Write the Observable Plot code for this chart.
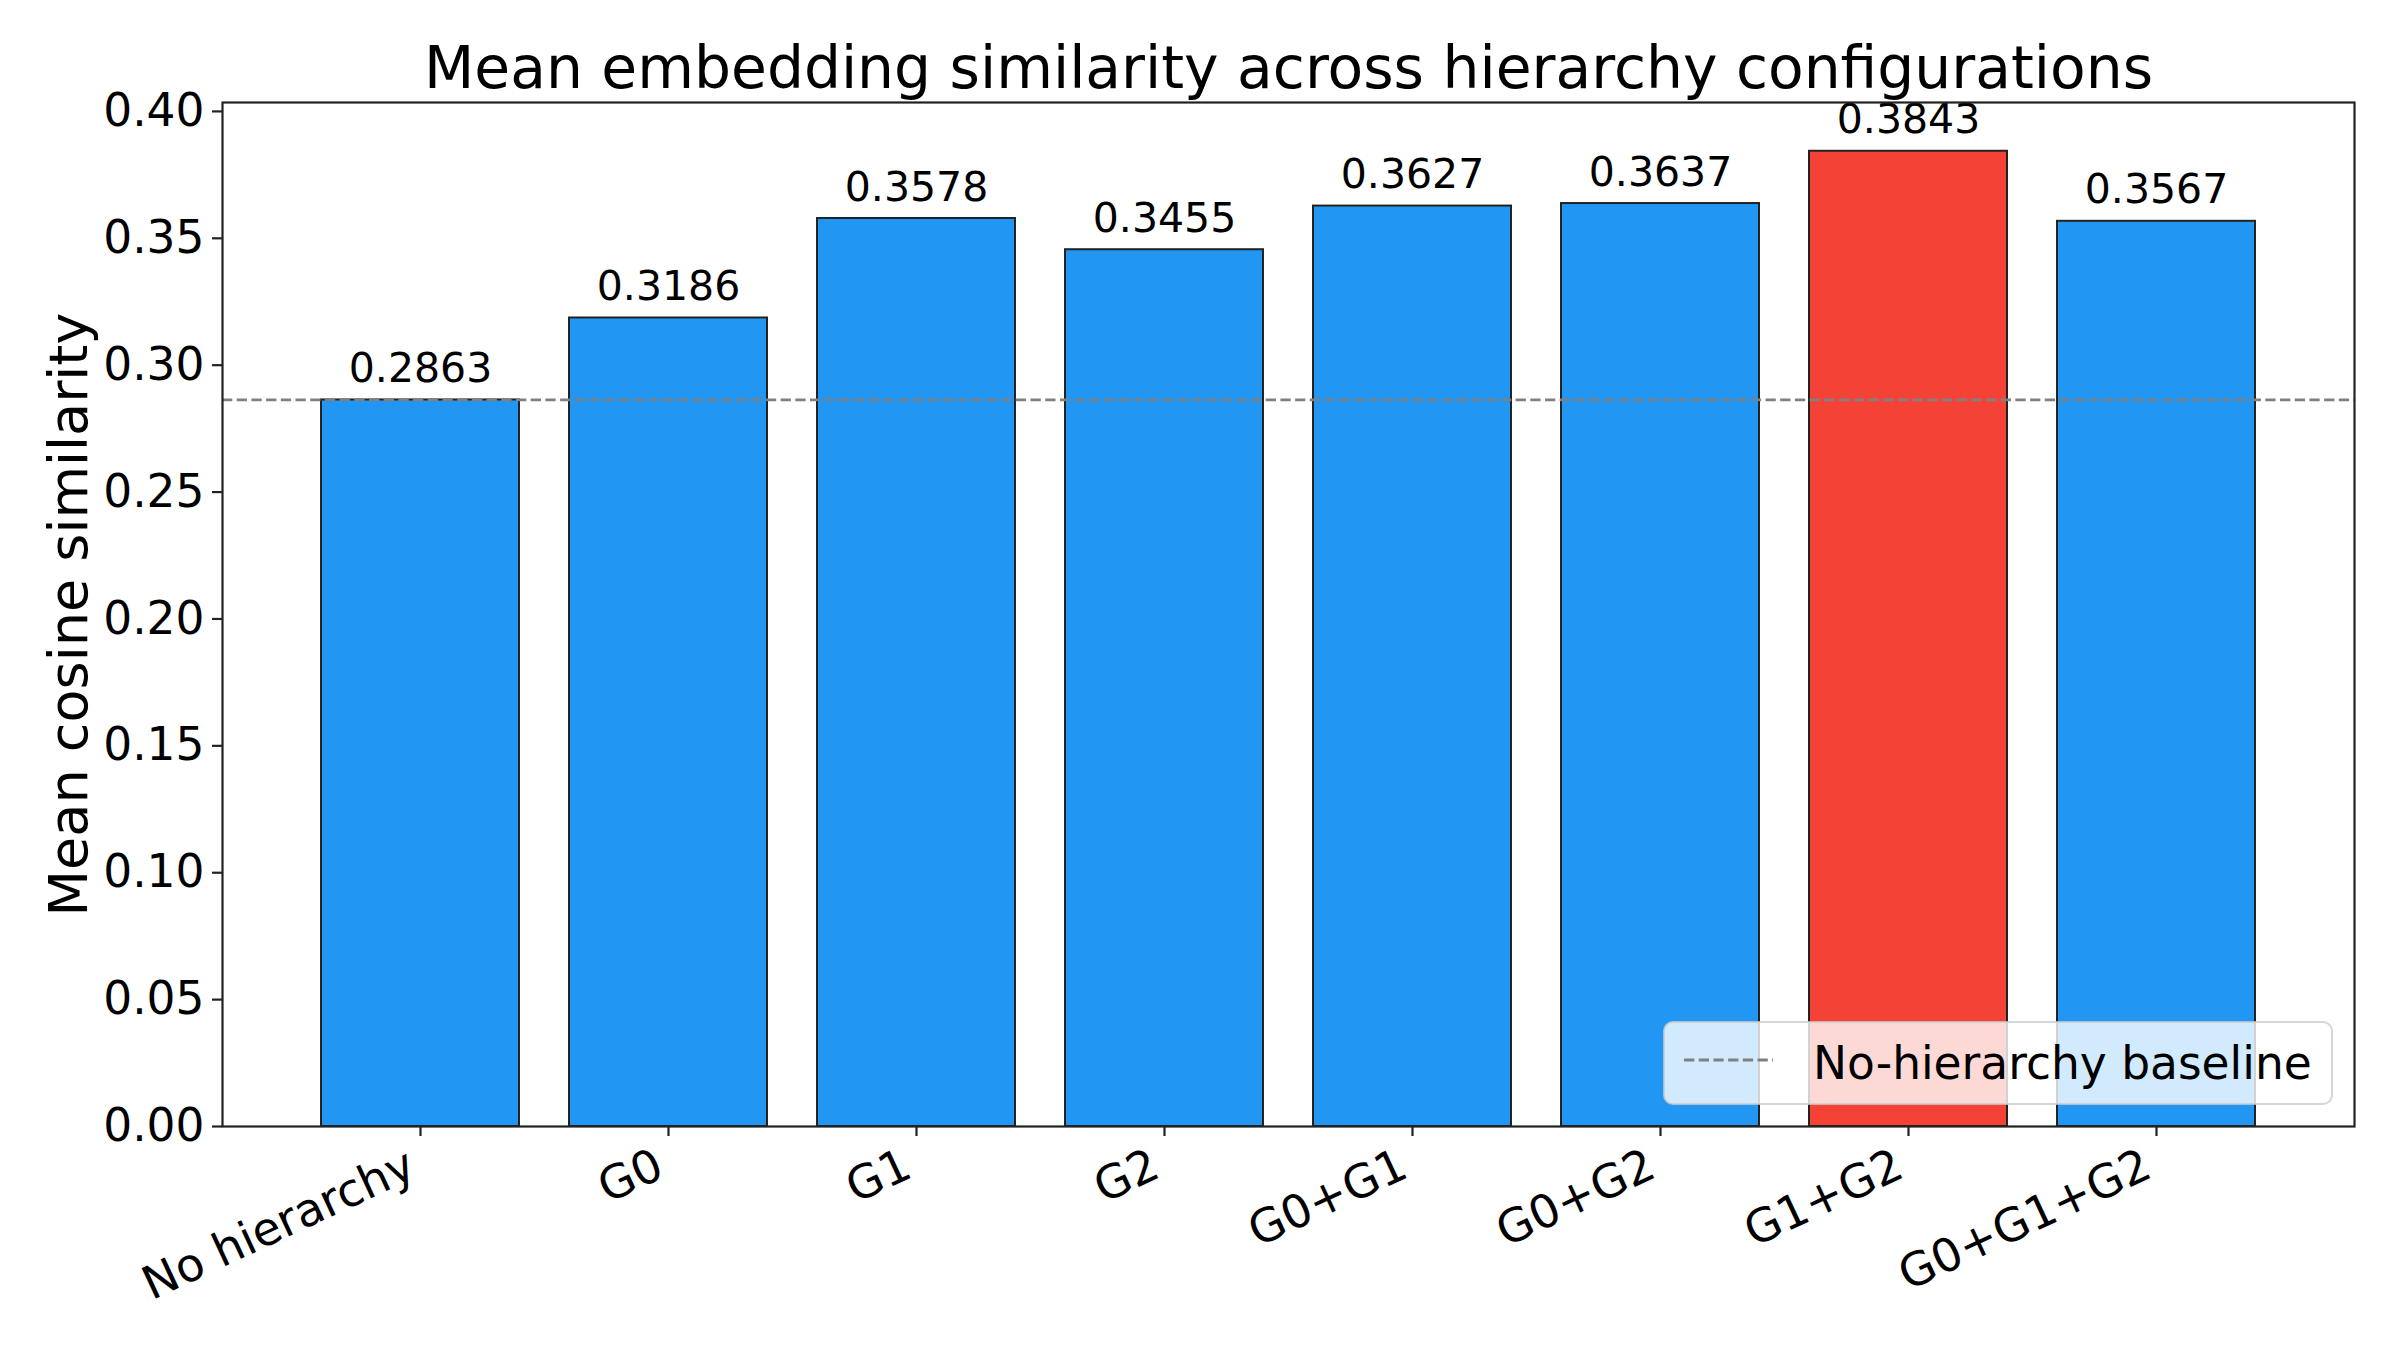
<!DOCTYPE html>
<html><head><meta charset="utf-8">
<script src="https://cdn.jsdelivr.net/npm/d3@7"></script>
<script src="https://cdn.jsdelivr.net/npm/@observablehq/plot@0.6"></script>
<style>html,body{margin:0;padding:0;background:#fff} svg{display:block}</style>
</head><body><div id="chart"></div>
<script>
const categories = ["No hierarchy", "G0", "G1", "G2", "G0+G1", "G0+G2", "G1+G2", "G0+G1+G2"];
const values = [0.2863, 0.3186, 0.3578, 0.3455, 0.3627, 0.3637, 0.3843, 0.3567];
const highlightCategory = "G1+G2";
const baselineValue = 0.2863;
const yTicks = [0.00, 0.05, 0.10, 0.15, 0.20, 0.25, 0.30, 0.35, 0.40];
const titleText = "Mean embedding similarity across hierarchy configurations";
const yLabelText = "Mean cosine similarity";
const legendLabel = "No-hierarchy baseline";

const data = categories.map((c, i) => ({category: c, value: values[i]}));
const W = 2400, H = 1350, mL = 222, mR = 46, mT = 102, mB = 224;
const yMax = d3.max(values) * 1.05;
const blue = "#2196F3", red = "#F44336";

const plot = Plot.plot({
  width: W, height: H,
  marginLeft: mL, marginRight: mR, marginTop: mT, marginBottom: mB,
  style: {fontFamily: "DejaVu Sans", background: "white", color: "black", overflow: "visible"},
  x: {domain: categories, paddingInner: 0.2, paddingOuter: 0.39, align: 0.5, axis: null},
  y: {domain: [0, yMax], axis: null},
  color: {type: "identity"},
  marks: [
    Plot.barY(data, {x: "category", y: "value", fill: d => d.category === highlightCategory ? red : blue, stroke: "#222", strokeWidth: 2}),
    Plot.ruleY([baselineValue], {stroke: "#808080", strokeWidth: 2.8, strokeDasharray: "10.3,4.4"}),
    Plot.text(data, {x: "category", y: "value", text: d => d.value.toFixed(4), lineAnchor: "bottom", dy: -18, fontSize: 41, fill: "black"}),
    Plot.frame({stroke: "#222", strokeWidth: 2.2}),
    Plot.axisY({ticks: yTicks, tickFormat: d3.format(".2f"), tickSize: 10, tickPadding: 8, fontSize: 45.5, label: null, strokeWidth: 2.2, stroke: "#222"}),
    Plot.axisX({tickSize: 10, tickFormat: () => "", label: null, strokeWidth: 2.2, stroke: "#222"}),
    Plot.text(categories, {x: d => d, frameAnchor: "bottom", dx: -16, dy: 20, rotate: -25, textAnchor: "end", lineAnchor: "top", fontSize: 46, fill: "black"}),
    Plot.text([titleText], {frameAnchor: "top", dy: -33, textAnchor: "middle", lineAnchor: "middle", fontSize: 58.3, fill: "black"}),
    Plot.text([yLabelText], {frameAnchor: "left", dx: -153, rotate: -90, textAnchor: "middle", lineAnchor: "middle", fontSize: 54, fill: "black"})
  ]
});

// legend (lower right, inside the axes)
const svg = d3.select(plot);
const pad = 22;
const lgW = 668, lgH = 82;
const lgX = W - mR - pad - lgW, lgY = H - mB - pad - lgH;
const g = svg.append("g").attr("text-anchor", "start");
g.append("rect").attr("x", lgX).attr("y", lgY).attr("width", lgW).attr("height", lgH)
  .attr("rx", 9).attr("fill", "white").attr("fill-opacity", 0.8)
  .attr("stroke", "#cccccc").attr("stroke-opacity", 0.8).attr("stroke-width", 2);
g.append("line").attr("x1", lgX + 20).attr("x2", lgX + 109).attr("y1", lgY + 38).attr("y2", lgY + 38)
  .attr("stroke", "#808080").attr("stroke-width", 2.8).attr("stroke-dasharray", "10.3,4.4");
g.append("text").attr("x", lgX + 149).attr("y", lgY + 41).attr("dy", "0.35em").attr("text-anchor", "start")
  .attr("font-size", 45.5).attr("font-family", "DejaVu Sans").attr("fill", "black").text(legendLabel);

document.getElementById("chart").appendChild(plot);
</script>
</body></html>
